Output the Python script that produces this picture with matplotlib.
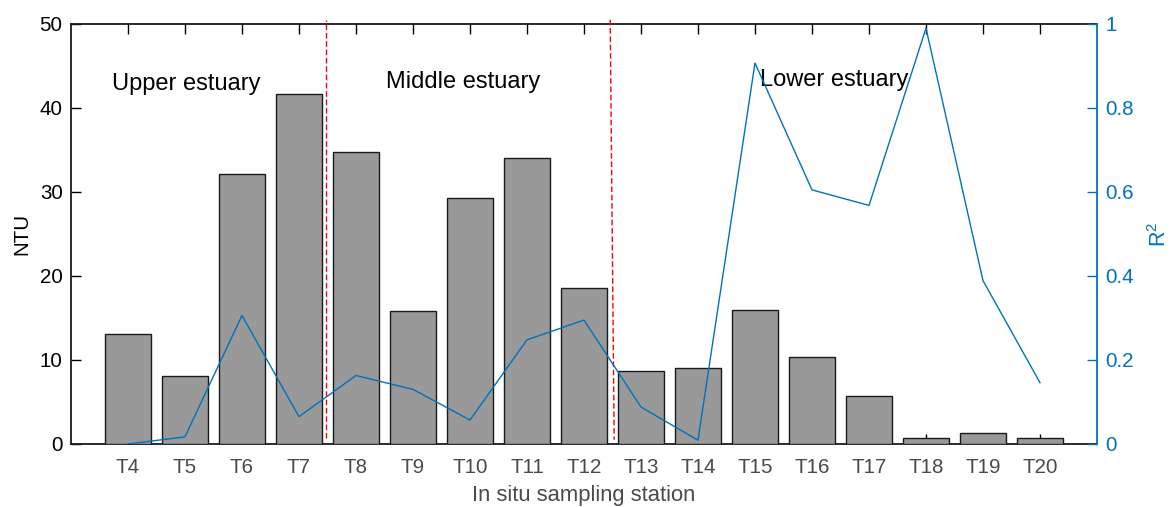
import numpy as np
import matplotlib
matplotlib.use('Agg')
import matplotlib.pyplot as plt

plt.rcParams['font.family'] = ['Liberation Sans', 'DejaVu Sans']
plt.rcParams['mathtext.fontset'] = 'custom'
plt.rcParams['mathtext.rm'] = 'Liberation Sans'
plt.rcParams['mathtext.it'] = 'Liberation Sans'

# data
stations = ['T4', 'T5', 'T6', 'T7', 'T8', 'T9', 'T10', 'T11', 'T12',
            'T13', 'T14', 'T15', 'T16', 'T17', 'T18', 'T19', 'T20']
ntu = [13.1, 8.1, 32.2, 41.7, 34.8, 15.8, 29.3, 34.0, 18.6,
       8.7, 9.1, 16.0, 10.3, 5.7, 0.7, 1.3, 0.7]
r2 = [0.0, 0.017, 0.306, 0.065, 0.163, 0.130, 0.057, 0.248, 0.295,
      0.088, 0.009, 0.907, 0.605, 0.568, 0.99, 0.389, 0.146]
zone_names = ['Upper estuary', 'Middle estuary', 'Lower estuary']

x = np.arange(1, len(stations) + 1)
blue = '#0072BD'
gray_txt = '#4a4a4a'

fig = plt.figure(figsize=(11.73, 5.07), dpi=100)
ax = fig.add_axes([0.0605, 0.1243, 0.8747, 0.8284])

ax.bar(x, ntu, width=0.8, color='#999999', edgecolor='#1a1a1a', linewidth=1.0, zorder=3)
ax.set_xlim(0, 18)
ax.set_ylim(0, 50)
ax.set_xticks(x)
ax.set_xticklabels(stations)
ax.set_yticks([0, 10, 20, 30, 40, 50])
ax.tick_params(axis='x', direction='in', top=True, length=7.5, width=1,
               labelsize=14.8, labelcolor=gray_txt, pad=10)
ax.tick_params(axis='y', direction='in', length=7.5, width=1,
               labelsize=14.8, labelcolor='black', pad=6)
for s in ['left', 'bottom', 'top']:
    ax.spines[s].set_linewidth(1.3)
    ax.spines[s].set_color('#1a1a1a')
ax.spines['right'].set_visible(False)

ax.set_xlabel('In situ sampling station', fontsize=15.8, color=gray_txt, labelpad=6)
ax.set_ylabel('NTU', fontsize=14.8, labelpad=6)

# zone separators
ax.plot([4.47, 4.47], [0.7, 50.5], color='red', ls=(0, (4, 2)), lw=1.0, clip_on=False, zorder=4)
ax.plot([9.46, 9.53], [50.5, 0.5], color='red', ls=(0, (4, 2)), lw=1.0, clip_on=False, zorder=4)

ax.text(0.72, 42.9, zone_names[0], fontsize=17, va='center', ha='left', zorder=5)
ax.text(5.53, 43.1, zone_names[1], fontsize=17, va='center', ha='left', zorder=5)
ax.text(12.09, 43.3, zone_names[2], fontsize=17, va='center', ha='left', zorder=5)

ax2 = ax.twinx()
ax2.plot(x, r2, color=blue, lw=1.0)
ax2.set_ylim(0, 1)
ax2.set_yticks([0, 0.2, 0.4, 0.6, 0.8, 1])
ax2.set_yticklabels(['0', '0.2', '0.4', '0.6', '0.8', '1'])
ax2.tick_params(axis='y', direction='in', length=7.5, width=1, colors=blue,
                labelsize=14.8, pad=6)
for s in ['left', 'bottom', 'top']:
    ax2.spines[s].set_visible(False)
ax2.spines['right'].set_color(blue)
ax2.spines['right'].set_linewidth(1.3)
ax2.set_ylabel('R$^2$', fontsize=15.5, color=blue, labelpad=10)

fig.savefig('out.png', dpi=100)
